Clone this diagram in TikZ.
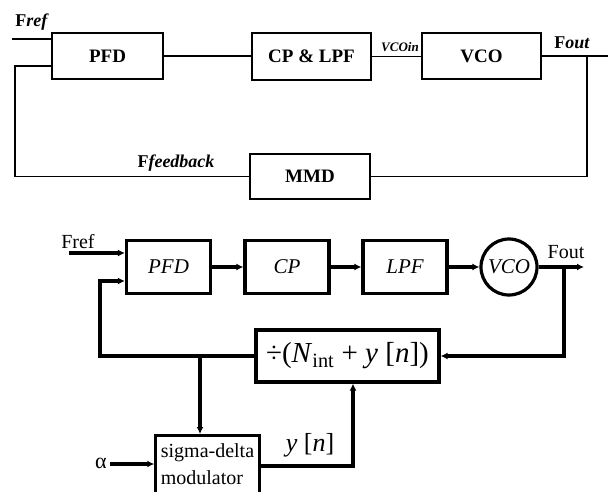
\documentclass[tikz,border=0pt]{standalone}
\usepackage{fontspec}
\setmainfont{Liberation Serif}
\usetikzlibrary{arrows.meta}

\begin{document}
\begin{tikzpicture}[x=1pt, y=-1pt, >={Latex[length=7pt,width=7pt]},
    kotak/.style={draw, line width=2pt, inner sep=0pt, font=\fontsize{19}{22}\selectfont\bfseries},
    blok/.style={draw, line width=3.2pt, inner sep=0pt, minimum width=84pt, minimum height=53pt, font=\fontsize{21}{25}\selectfont\itshape},
    garis/.style={line width=1.6pt},
    panah/.style={line width=3.2pt, ->},
    teks/.style={inner sep=0pt, font=\fontsize{18}{21}\selectfont\bfseries},
    teksB/.style={inner sep=0pt, font=\fontsize{20}{24}\selectfont}]
    \useasboundingbox (0,0) rectangle (608,491);

    % --- LAYER 1: DIAGRAM ATAS (BLOK) ---
    \node[kotak, minimum width=111pt, minimum height=46pt] (pfdA) at (107.5,56) {PFD};
    \node[kotak, minimum width=119pt, minimum height=47pt] (cplpf) at (311.5,56.5) {CP \& LPF};
    \node[kotak, minimum width=119pt, minimum height=46pt] (vcoA) at (481.5,56) {VCO};
    \node[kotak, minimum width=120pt, minimum height=45pt] (mmd) at (310,176.5) {MMD};

    % titik bantu untuk garis
    \coordinate (frefA) at (12,39);
    \coordinate (foutA) at (608,56);
    \coordinate (cabangA) at (587,56);
    \coordinate (kiriA) at (15,66);

    % --- LAYER 2: GARIS DIAGRAM ATAS ---
    \draw[garis] (frefA) -- (frefA -| pfdA.west);
    \draw[garis] (pfdA.east) -- (pfdA.east -| cplpf.west);
    \draw[garis] (cplpf.east) -- (cplpf.east -| vcoA.west);
    \draw[garis] (vcoA.east) -- (foutA);
    \draw[garis] (cabangA) |- (mmd.east);
    \draw[garis] (mmd.west) -| (kiriA) -- (kiriA -| pfdA.west);

    % --- LAYER 3: LABEL DIAGRAM ATAS ---
    \node[teks] (lblFrefA) at (32,22) {F\textit{ref}};
    \node[teks, font=\fontsize{13}{15}\selectfont\bfseries\itshape] (lblVcoin) at (400,47) {VCOin};
    \node[teks] (lblFoutA) at (572,43) {F\textit{out}};
    \node[teks] (lblFfb) at (176,163) {F\textit{feedback}};

    % --- LAYER 4: DIAGRAM BAWAH (BLOK) ---
    \node[blok] (pfdB) at (168.5,267) {PFD};
    \node[blok] (cpB) at (287,267) {CP};
    \node[blok] (lpfB) at (405,267) {LPF};
    \node[draw, circle, line width=3.2pt, minimum size=56pt, inner sep=0pt, font=\fontsize{21}{25}\selectfont\itshape] (vcoB) at (509,267) {VCO};
    \node[draw, line width=3.2pt, minimum width=183pt, minimum height=52pt, inner sep=0pt, font=\fontsize{29}{32}\selectfont] (bagi) at (347.5,356) {÷(\textit{N}\textsubscript{int} + \textit{y} [\textit{n}])};
    % kotak modulator terpotong di tepi bawah
    \node[draw, line width=3.2pt, minimum width=99pt, anchor=north, align=left, inner xsep=5pt, inner ysep=8pt, text depth=30pt, font=\fontsize{20}{27}\selectfont] (sdm) at (207.5,434) {sigma-delta\\modulator};

    % titik bantu untuk panah
    \coordinate (frefB) at (69,253);
    \coordinate (foutB) at (584,267);
    \coordinate (cabangB) at (564,267);
    \coordinate (kiriB) at (100,281);
    \coordinate (simpul) at (200,356);
    \coordinate (alfa) at (110,464);
    \coordinate (keluar) at (353,466);

    % --- LAYER 5: PANAH DIAGRAM BAWAH ---
    \draw[panah] (frefB) -- (frefB -| pfdB.west);
    \draw[panah] (pfdB.east) -- (cpB.west);
    \draw[panah] (cpB.east) -- (lpfB.west);
    \draw[panah] (lpfB.east) -- (vcoB.west);
    \draw[panah] (vcoB.east) -- (foutB);
    \draw[panah] (cabangB) |- (bagi.east);
    \draw[panah] (bagi.west) -| (kiriB) -- (kiriB -| pfdB.west);
    \draw[panah] (simpul) -- (simpul |- sdm.north);
    \draw[panah] (alfa) -- (alfa -| sdm.west);
    \draw[panah] (keluar -| sdm.east) -- (keluar) -- (keluar |- bagi.south);

    % --- LAYER 6: LABEL DIAGRAM BAWAH ---
    \node[teksB] (lblFrefB) at (78,242) {Fref};
    \node[teksB] (lblFoutB) at (566,252) {Fout};
    \node[teksB, font=\fontsize{22}{26}\selectfont] (lblAlfa) at (101,463) {α};
    \node[teksB, font=\fontsize{26}{30}\selectfont] (lblYn) at (310,445) {\textit{y} [\textit{n}]};

\end{tikzpicture}
\end{document}
